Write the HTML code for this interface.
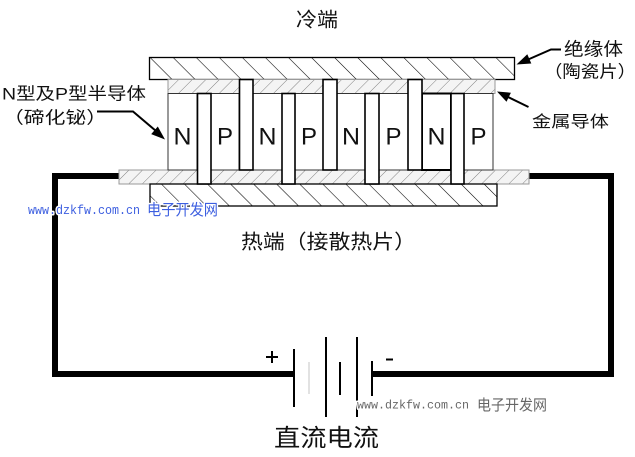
<!DOCTYPE html>
<html><head><meta charset="utf-8"><style>
html,body{margin:0;padding:0;background:#fff;width:635px;height:457px;overflow:hidden}
svg{display:block}
text{font-family:"Liberation Sans","Noto Sans CJK SC",sans-serif;fill:#111}
</style></head><body>
<svg width="635" height="457" viewBox="0 0 635 457" xmlns="http://www.w3.org/2000/svg">
<defs>
<pattern id="plate" patternUnits="userSpaceOnUse" width="16.3" height="16.3" patternTransform="rotate(-45)">
<line x1="0" y1="0" x2="0" y2="16.3" stroke="#000" stroke-width="1.1"/>
</pattern>
<pattern id="strip" patternUnits="userSpaceOnUse" width="9.6" height="9.6" patternTransform="rotate(45)">
<line x1="0" y1="0" x2="0" y2="9.6" stroke="#777" stroke-width="0.9"/>
</pattern>
</defs>

<!-- wires -->
<g fill="#000">
<rect x="52" y="173" width="67" height="6"/>
<rect x="52" y="173" width="6" height="204"/>
<rect x="52" y="371" width="242" height="6"/>
<rect x="529" y="173" width="85" height="6"/>
<rect x="608" y="173" width="6" height="204"/>
<rect x="372" y="371" width="242" height="6"/>
</g>

<!-- top plate -->
<rect x="149.5" y="57.5" width="365" height="22" fill="#fff"/>
<rect x="149.5" y="57.5" width="365" height="22" fill="url(#plate)" stroke="#000" stroke-width="1.3"/>
<!-- top strip -->
<rect x="168" y="79.5" width="327" height="14" fill="#f4f4f4"/>
<rect x="168" y="79.5" width="327" height="14" fill="url(#strip)" stroke="#999" stroke-width="1"/>
<!-- bottom strip -->
<rect x="119" y="170" width="410" height="14" fill="#f4f4f4"/>
<rect x="119" y="170" width="410" height="14" fill="url(#strip)" stroke="#999" stroke-width="1"/>
<!-- bottom plate -->
<rect x="150" y="184" width="347" height="22" fill="#fff"/>
<rect x="150" y="184" width="347" height="22" fill="url(#plate)" stroke="#000" stroke-width="1.3"/>

<!-- pellets -->
<g fill="#fff" stroke="#333" stroke-width="1">
<rect x="168" y="93.5" width="29" height="76.5"/>
<rect x="211" y="93.5" width="28" height="76.5"/>
<rect x="253" y="93.5" width="29" height="76.5"/>
<rect x="295" y="93.5" width="28" height="76.5"/>
<rect x="337" y="93.5" width="28" height="76.5"/>
<rect x="379" y="93.5" width="29" height="76.5"/>
<rect x="422" y="93.5" width="29" height="76.5" stroke="#000" stroke-width="2"/>
<rect x="464" y="93.5" width="29" height="76.5"/>
</g>
<!-- bars -->
<g fill="#fff" stroke="#000" stroke-width="1.6">
<rect x="197.5" y="93.5" width="13.5" height="90.5"/>
<rect x="239.5" y="79.5" width="13.5" height="90.5"/>
<rect x="282" y="93.5" width="13" height="90.5"/>
<rect x="323" y="79.5" width="14" height="90.5"/>
<rect x="365" y="93.5" width="14" height="90.5"/>
<rect x="408" y="79.5" width="14" height="90.5"/>
<rect x="451" y="93.5" width="13" height="90.5"/>
</g>

<!-- N / P letters -->
<g font-size="24" text-anchor="middle">
<text x="182.5" y="144.5" textLength="18" lengthAdjust="spacingAndGlyphs">N</text>
<text x="225" y="144.5">P</text>
<text x="267.5" y="144.5" textLength="18" lengthAdjust="spacingAndGlyphs">N</text>
<text x="309" y="144.5">P</text>
<text x="351" y="144.5" textLength="18" lengthAdjust="spacingAndGlyphs">N</text>
<text x="393.5" y="144.5">P</text>
<text x="436.5" y="144.5" textLength="18" lengthAdjust="spacingAndGlyphs">N</text>
<text x="478.5" y="144.5">P</text>
</g>

<!-- arrows -->
<g stroke="#000" stroke-width="2" fill="none">
<polyline points="97,111.5 133,111.5 156,131"/>
<polyline points="561,49.5 551,49.5 527,60"/>
<line x1="528.5" y1="107" x2="507" y2="96.5"/>
</g>
<g fill="#000">
<polygon points="165,139.5 151.2,134.1 157.8,126.5"/>
<polygon points="516.5,64.5 527.3,54.3 531.3,63.5"/>
<polygon points="497,91.5 510.9,92.7 506.5,101.7"/>
</g>

<!-- labels -->
<text x="296" y="26.6" font-size="20" textLength="42" lengthAdjust="spacingAndGlyphs">冷端</text>
<text x="2" y="99.5" font-size="17" textLength="144" lengthAdjust="spacingAndGlyphs">N型及P型半导体</text>
<text x="3" y="123.5" font-size="17" textLength="104" lengthAdjust="spacingAndGlyphs">（碲化铋）</text>
<text x="564" y="55.5" font-size="18" textLength="59" lengthAdjust="spacingAndGlyphs">绝缘体</text>
<text x="544" y="77.5" font-size="17" textLength="92" lengthAdjust="spacingAndGlyphs">（陶瓷片）</text>
<text x="532" y="127" font-size="16" textLength="77" lengthAdjust="spacingAndGlyphs">金属导体</text>
<text x="241" y="248.6" font-size="20" textLength="175" lengthAdjust="spacingAndGlyphs">热端（接散热片）</text>

<!-- battery -->
<g stroke="#000" stroke-width="2">
<line x1="294" y1="349" x2="294" y2="407"/>
<line x1="326" y1="337" x2="326" y2="417"/>
<line x1="340" y1="362" x2="340" y2="395"/>
<line x1="357" y1="337" x2="357" y2="417"/>
<line x1="372" y1="361" x2="372" y2="396"/>
<line x1="266" y1="357" x2="278" y2="357"/>
<line x1="272" y1="351" x2="272" y2="363"/>
<line x1="386" y1="359.5" x2="393" y2="359.5"/>
</g>
<line x1="309" y1="362" x2="309" y2="394" stroke="#e2e2e2" stroke-width="2"/>

<text x="274" y="446" font-size="24" textLength="105" lengthAdjust="spacingAndGlyphs">直流电流</text>

<!-- watermarks -->
<g stroke="#fff" stroke-width="3" stroke-linejoin="round" paint-order="stroke">
<text x="28" y="214" font-size="12.5" style="font-family:'Liberation Mono',monospace;fill:#3d5fe0" textLength="112" lengthAdjust="spacingAndGlyphs">www.dzkfw.com.cn</text>
<text x="147" y="215" font-size="15.5" style="fill:#3d5fe0" textLength="71" lengthAdjust="spacingAndGlyphs">电子开发网</text>
</g>
<g stroke="#fff" stroke-width="3" stroke-linejoin="round" paint-order="stroke">
<text x="357" y="408.5" font-size="12" style="font-family:'Liberation Mono',monospace;fill:#666" textLength="112" lengthAdjust="spacingAndGlyphs">www.dzkfw.com.cn</text>
<text x="477" y="410" font-size="15" style="fill:#666" textLength="70" lengthAdjust="spacingAndGlyphs">电子开发网</text>
</g>
</svg>
</body></html>
